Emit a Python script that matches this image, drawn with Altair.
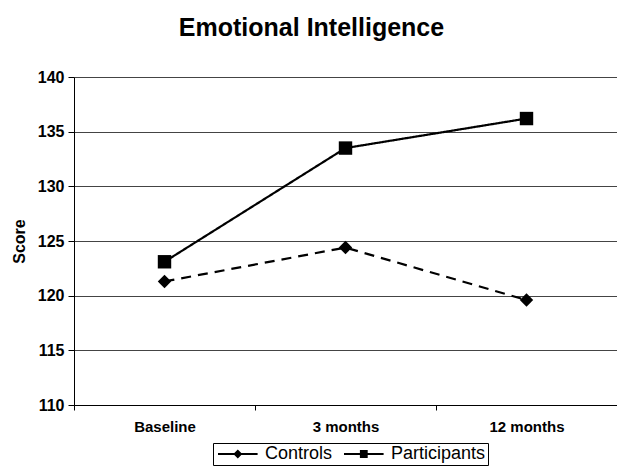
import altair as alt
import pandas as pd

timepoints = ["Baseline", "3 months", "12 months"]
series_names = ["Controls", "Participants"]
controls = [121.3, 124.4, 119.6]
participants = [123.1, 133.5, 136.2]
y_ticks = [110, 115, 120, 125, 130, 135, 140]

df = pd.DataFrame({
    "time": timepoints * 2,
    "series": [series_names[0]] * 3 + [series_names[1]] * 3,
    "score": controls + participants,
})

FONT = "Liberation Sans"

x_enc = alt.X(
    "time:N", sort=timepoints, title=None,
    scale=alt.Scale(type="band", paddingInner=0, paddingOuter=0),
    axis=alt.Axis(labelAngle=0, labelFontSize=15, labelFontWeight="bold", labelColor="black",
                  labelFont=FONT, tickBand="extent", tickSize=5, tickColor="black",
                  domainColor="black", labelPadding=9, grid=False),
)
y_enc = alt.Y(
    "score:Q", title="Score",
    scale=alt.Scale(domain=[110, 140], nice=False, zero=False),
    axis=alt.Axis(values=y_ticks, labelFontSize=16, labelFontWeight="bold", labelColor="black",
                  labelFont=FONT, tickSize=6, tickColor="black", domainColor="black",
                  gridColor="#444444", gridWidth=1.2, labelPadding=4,
                  titleFontSize=16, titleFont=FONT, titleFontWeight="bold", titleColor="black",
                  titlePadding=10),
)

lines = alt.Chart(df).mark_line(color="black", strokeWidth=2.2).encode(
    x=x_enc, y=y_enc,
    strokeDash=alt.StrokeDash("series:N", scale=alt.Scale(domain=series_names, range=[[10, 7], [1, 0]]), legend=None),
    detail="series:N",
)

points = alt.Chart(df).mark_point(filled=True, color="black", opacity=1, size=180).encode(
    x=x_enc, y=y_enc,
    shape=alt.Shape("series:N", scale=alt.Scale(domain=series_names, range=["diamond", "square"]), legend=None),
)

# legend glyphs: a short line (thin filled bar) with the marker in its middle
diamond_path = "M-1,-0.16H5.6V0.16H-1ZM2.3,-0.75L3.05,0L2.3,0.75L1.55,0Z"
square_path = "M-1,-0.16H5.6V0.16H-1ZM1.65,-0.65H2.95V0.65H1.65Z"

legend_layer = alt.Chart(df).mark_point(filled=True, color="black", opacity=0).encode(
    x=x_enc, y=y_enc,
    shape=alt.Shape(
        "series:N",
        scale=alt.Scale(domain=series_names, range=[diamond_path, square_path]),
        legend=alt.Legend(
            title=None, orient="none", legendX=139, legendY=366, direction="horizontal",
            symbolSize=144, symbolOpacity=1, symbolFillColor="black",
            symbolStrokeWidth=0, labelOffset=32, labelFontSize=18, labelFont=FONT,
            labelColor="black", columnPadding=8, padding=2, strokeColor="black",
            fillColor="white",
        ),
    ),
)

chart = (
    alt.layer(lines, points, legend_layer)
    .resolve_scale(shape="independent")
    .properties(
        width=543, height=328,
        autosize=alt.AutoSizeParams(type="none"),
        padding={"left": 66, "top": 69, "right": 0, "bottom": 62},
        title=alt.TitleParams("Emotional Intelligence", fontSize=25, font=FONT, fontWeight="bold",
                              color="black", dx=-34, offset=28),
    )
    .configure_view(stroke=None)
    .configure(background="white")
)

chart.save("out.html", embed_options={"renderer": "svg", "actions": False})
